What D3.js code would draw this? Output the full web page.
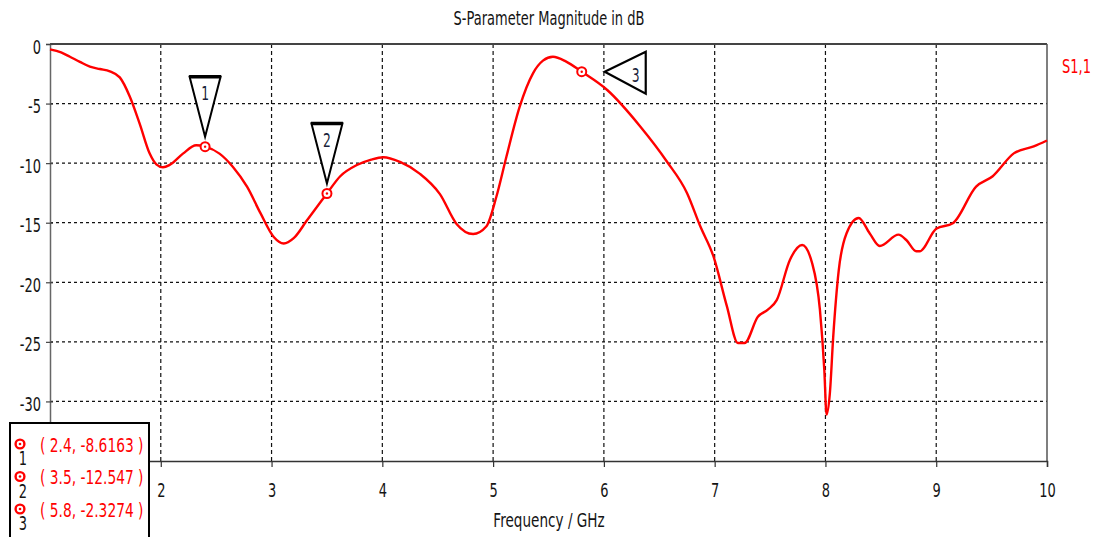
<!DOCTYPE html>
<html>
<head>
<meta charset="utf-8">
<script src="https://cdn.jsdelivr.net/npm/d3@7/dist/d3.min.js"></script>
<style>
  html, body { margin: 0; padding: 0; background: #fff; }
  svg { display: block; }
  text { font-family: "DejaVu Sans", sans-serif; }
</style>
</head>
<body>
<svg id="chart" width="1099" height="537"></svg>
<script>
// S1,1 reflection magnitude (dB) versus frequency (GHz)
const freq = [1.00, 1.10, 1.18, 1.27, 1.36, 1.45, 1.54, 1.63, 1.72, 1.81, 1.90, 1.96, 2.02, 2.08, 2.20, 2.32,
  2.40, 2.53, 2.65, 2.78, 2.90, 3.02, 3.11, 3.20, 3.32, 3.50, 3.62, 3.77, 3.90, 4.01, 4.16, 4.34, 4.52,
  4.67, 4.82, 4.94, 5.03, 5.12, 5.24, 5.36, 5.45, 5.54, 5.66, 5.80, 6.03, 6.33, 6.57, 6.75, 6.87, 6.99,
  7.11, 7.21, 7.27, 7.39, 7.48, 7.56, 7.68, 7.79, 7.88, 7.95, 7.99, 8.01, 8.04, 8.07, 8.12, 8.19, 8.30,
  8.40, 8.49, 8.66, 8.73, 8.82, 8.85, 9.00, 9.15, 9.36, 9.51, 9.70, 9.88, 10.00];
const s11 = [-0.45, -0.7, -1.07, -1.5, -1.9, -2.1, -2.3, -2.8, -4.4, -6.7, -9.2, -10.1, -10.35, -10.15, -9.2, -8.5,
  -8.6163, -9.2, -10.3, -12.0, -14.2, -16.2, -16.75, -16.3, -14.8, -12.547, -11.1, -10.16, -9.7, -9.5, -9.9, -10.9, -12.6,
  -15.1, -15.95, -15.3, -12.8, -9.46, -5.26, -2.46, -1.4, -1.07, -1.48, -2.3274, -3.86, -6.94, -9.88, -12.5, -15.3, -17.85,
  -22.0, -25.1, -25.1, -22.9, -22.3, -21.5, -18.1, -16.87, -18.4, -22.3, -27.4, -31.1, -29.3, -24.6, -19.0, -15.9, -14.6,
  -15.9, -16.95, -16.0, -16.45, -17.4, -17.4, -15.5, -15.05, -11.97, -11.1, -9.18, -8.6, -8.1];

// Markers placed on the trace
const markerIds = ["1", "2", "3"];
const markerFreq = [2.4, 3.5, 5.8];
const markerVal = [-8.6163, -12.547, -2.3274];
const markerValText = ["-8.6163", "-12.547", "-2.3274"];

const xTicks = [2, 3, 4, 5, 6, 7, 8, 9, 10];
const yTicks = [0, -5, -10, -15, -20, -25, -30];

const titleText = "S-Parameter Magnitude in dB";
const xLabel = "Frequency / GHz";
const seriesName = "S1,1";

const svg = d3.select("#chart");
const plotLeft = 50, plotRight = 1047, plotTop = 44, plotBottom = 461;

const x = d3.scaleLinear().domain([1, 10]).range([plotLeft, plotRight]);
const y = d3.scaleLinear().domain([-35, 0]).range([plotBottom, plotTop]);

const red = "#ff0000";
const ink = "#141414";
const squeeze = 0.65;   // condensed look for all labels

// Text drawn condensed horizontally around its anchor point
function label(parent, px, py, str, opts = {}) {
  return parent.append("text")
    .attr("transform", `translate(${px},${py}) scale(${opts.sx || squeeze},1)`)
    .attr("text-anchor", opts.anchor || "start")
    .attr("font-size", opts.size || 20)
    .attr("fill", opts.fill || ink)
    .attr("xml:space", "preserve")
    .text(str);
}

// Grid
svg.append("g").selectAll("line").data(xTicks.filter(d => d < 10)).join("line")
  .attr("x1", d => x(d)).attr("x2", d => x(d))
  .attr("y1", plotTop).attr("y2", plotBottom)
  .attr("stroke", "#111").attr("stroke-width", 1.2).attr("stroke-dasharray", "4,3");
svg.append("g").selectAll("line").data(yTicks.filter(d => d < 0)).join("line")
  .attr("x1", plotLeft).attr("x2", plotRight)
  .attr("y1", d => y(d)).attr("y2", d => y(d))
  .attr("stroke", "#111").attr("stroke-width", 1.2).attr("stroke-dasharray", "3,3");

// Frame: top border, right border, left and bottom axes
svg.append("line").attr("x1", plotLeft).attr("x2", plotRight).attr("y1", plotTop).attr("y2", plotTop)
  .attr("stroke", "#444").attr("stroke-width", 2);
svg.append("line").attr("x1", plotRight).attr("x2", plotRight).attr("y1", plotTop).attr("y2", plotBottom)
  .attr("stroke", "#555").attr("stroke-width", 1.5);

const plainNumber = d => String(d);   // ASCII hyphen for negatives

const yAxis = d3.axisLeft(y).tickValues(yTicks).tickSize(4).tickFormat(plainNumber);
const gy = svg.append("g").attr("transform", `translate(${plotLeft},0)`).call(yAxis);
gy.select(".domain").attr("stroke", "#666").attr("stroke-width", 1.5);
gy.selectAll(".tick line").attr("stroke", "#444").attr("stroke-width", 1.2).attr("x2", -4).attr("x1", 3);
gy.selectAll(".tick text").attr("font-size", 20).attr("fill", ink)
  .attr("font-family", "DejaVu Sans")
  .attr("x", -9 / squeeze).attr("dy", "0.45em")
  .attr("transform", `scale(${squeeze},1)`);

const xAxis = d3.axisBottom(x).tickValues(xTicks).tickSize(6).tickFormat(plainNumber);
const gx = svg.append("g").attr("transform", `translate(0,${plotBottom})`).call(xAxis);
gx.select(".domain").attr("stroke", "#333").attr("stroke-width", 1.5);
gx.selectAll(".tick line").attr("stroke", "#333").attr("stroke-width", 1.2);
gx.selectAll(".tick text").attr("font-size", 20).attr("fill", ink)
  .attr("font-family", "DejaVu Sans")
  .attr("y", 36).attr("dy", 0)
  .attr("transform", `scale(${squeeze},1)`);

// Title and axis label
label(svg, 549, 25, titleText, { anchor: "middle" });
label(svg, 549, 527, xLabel, { anchor: "middle", sx: 0.68 });

// Trace
const pts = freq.map((f, i) => [f, s11[i]]);
const line = d3.line().x(d => x(d[0])).y(d => y(d[1])).curve(d3.curveMonotoneX);
svg.append("path").datum(pts).attr("d", line)
  .attr("fill", "none").attr("stroke", red).attr("stroke-width", 2.4).attr("stroke-linejoin", "round");

// Series name
label(svg, 1062, 73, seriesName, { fill: red });

// Marker flags
const markers = markerIds.map((id, i) => ({ id, f: markerFreq[i], v: markerVal[i], vt: markerValText[i] }));
markers.forEach((m, i) => {
  const cx = x(m.f), cy = y(m.v);
  const g = svg.append("g");
  if (i < 2) {
    // downward pointing flag above the point
    g.append("path")
      .attr("d", `M${cx - 15.5},${cy - 70} L${cx + 15.5},${cy - 70} L${cx},${cy - 10} Z`)
      .attr("fill", "#fff").attr("stroke", "#000").attr("stroke-width", 2).attr("stroke-linejoin", "miter");
    g.append("line").attr("x1", cx - 16).attr("x2", cx + 16).attr("y1", cy - 70).attr("y2", cy - 70)
      .attr("stroke", "#000").attr("stroke-width", 3.5);
    label(g, cx, cy - 46.5, m.id, { anchor: "middle", size: 19, fill: "#1a1f3a" });
  } else {
    // flag pointing left towards the point
    g.append("path")
      .attr("d", `M${cx + 23},${cy} L${cx + 64},${cy - 20} L${cx + 64},${cy + 22} Z`)
      .attr("fill", "#fff").attr("stroke", "#000").attr("stroke-width", 2.2).attr("stroke-linejoin", "miter");
    label(g, cx + 54, cy + 10.7, m.id, { anchor: "middle", size: 19, fill: "#1a1f3a" });
  }
  g.append("circle").attr("cx", cx).attr("cy", cy).attr("r", 4.5)
    .attr("fill", "#fff").attr("stroke", red).attr("stroke-width", 2);
  g.append("circle").attr("cx", cx).attr("cy", cy).attr("r", 1.2).attr("fill", red);
});

// Marker readout box
const box = svg.append("g");
box.append("rect").attr("x", 10).attr("y", 423).attr("width", 139).attr("height", 130)
  .attr("fill", "#fff").attr("stroke", "#000").attr("stroke-width", 2);
markers.forEach((m, i) => {
  const ry = 444 + i * 32.5;
  box.append("circle").attr("cx", 20).attr("cy", ry).attr("r", 4.4)
    .attr("fill", "#fff").attr("stroke", red).attr("stroke-width", 2.4);
  box.append("circle").attr("cx", 20).attr("cy", ry).attr("r", 1.3).attr("fill", red);
  label(box, 23, ry + 21, m.id, { anchor: "middle", size: 20 });
  label(box, 40, ry + 7.5, `( ${m.f}, ${m.vt} )`, { fill: red, sx: 0.69 });
});
</script>
</body>
</html>
